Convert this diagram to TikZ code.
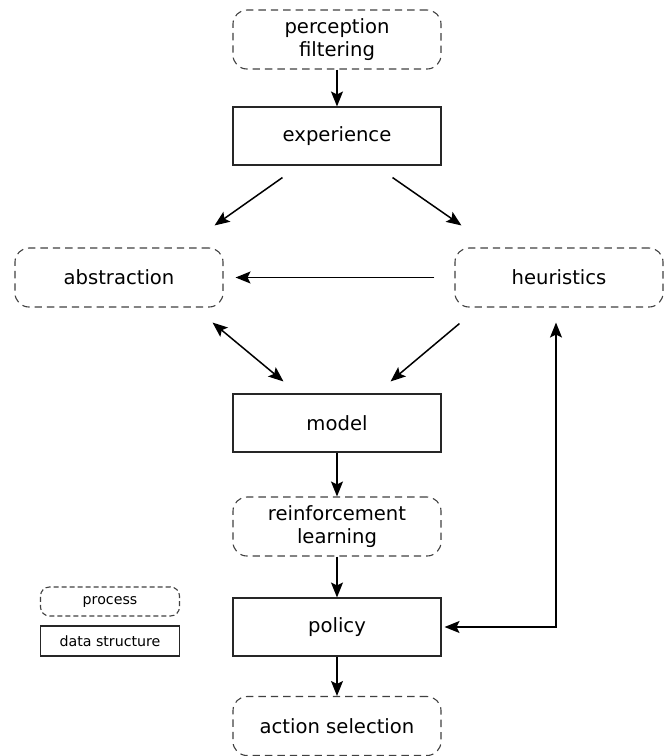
\documentclass[tikz,border=0pt]{standalone}
\usepackage{fontspec}
\setmainfont{DejaVu Sans}
\usetikzlibrary{arrows.meta,calc}
\begin{document}
\begin{tikzpicture}[x=0.5pt,y=-0.5pt,
  proc/.style={draw=black!75,line width=0.55pt,dash pattern=on 3.7pt off 2.5pt,rounded corners=7pt,minimum width=104pt,minimum height=29.5pt,align=center,inner sep=0pt,font=\fontsize{9.8}{11.8}\selectfont},
  data/.style={draw=black!85,line width=0.55pt,minimum width=104pt,minimum height=29pt,align=center,inner sep=0pt,font=\fontsize{9.8}{11.8}\selectfont},
  lproc/.style={proc,minimum width=69.5pt,minimum height=14.5pt,rounded corners=4.5pt,dash pattern=on 2.5pt off 1.5pt,font=\fontsize{7.1}{8.5}\selectfont},
  ldata/.style={data,minimum width=69.5pt,minimum height=15pt,font=\fontsize{7.1}{8.5}\selectfont},
  tip/.tip={Stealth[length=7.5pt,width=6pt,inset=1.5pt]},
  arr/.style={line width=0.75pt,-tip},
  darr/.style={line width=0.75pt,tip-tip}]
\useasboundingbox (0,0) rectangle (665,756);
\node[proc] (perc) at (337,39.5) {perception\\filtering};
\node[data] (exp) at (337,136) {experience};
\node[proc] (abs) at (119,277.5) {abstraction};
\node[proc] (heur) at (559,277.5) {heuristics};
\node[data] (model) at (337,423) {model};
\node[proc] (rl) at (337,526.5) {reinforcement\\learning};
\node[data] (pol) at (337,627) {policy};
\node[proc] (act) at (337,726) {action selection};
\node[lproc] (lp) at (110,601.5) {process};
\node[ldata] (ld) at (110,641) {data structure};

\draw[arr] (perc) -- (exp);
\draw[arr] ($(exp.south west)+(50,12)$) -- ($(abs.north east)+(-9,-22)$);
\draw[arr] ($(exp.south east)+(-49,12)$) -- ($(heur.north west)+(7,-22)$);
\draw[arr] ($(heur.west)+(-20,0)$) -- ($(abs.east)+(12,0)$);
\draw[darr] ($(abs.south east)+(-11,15)$) -- ($(model.north west)+(51,-12)$);
\draw[arr] ($(heur.south west)+(5,16)$) -- ($(model.north east)+(-51,-12)$);
\draw[arr] (model) -- (rl);
\draw[arr] (rl) -- (pol);
\draw[arr] (pol) -- (act);
\draw[darr] ($(pol.east)+(3,0)$) -| ($(heur.south)+(-3,15)$);
\end{tikzpicture}
\end{document}
